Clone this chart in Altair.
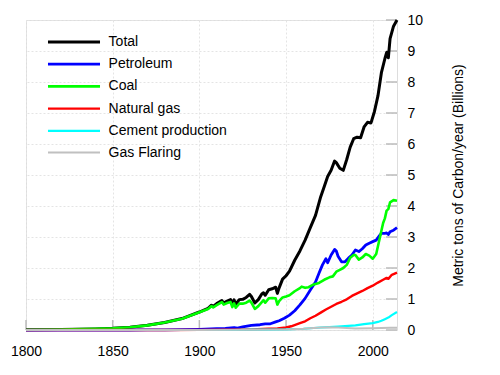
import altair as alt
import pandas as pd

# ---- data (billions of metric tons of carbon / year) ----
total_years = [1800, 1820, 1840, 1850, 1860, 1870, 1880, 1890, 1900, 1905, 1907, 1908,
               1910, 1913, 1914, 1916, 1918, 1919, 1920, 1921, 1923, 1925, 1927, 1929,
               1930, 1932, 1934, 1936, 1937, 1938, 1940, 1942, 1944, 1945, 1946, 1948,
               1950, 1952, 1955, 1958, 1961, 1964, 1967, 1970, 1972, 1974, 1976, 1978,
               1979, 1981, 1983, 1985, 1987, 1989, 1991, 1993, 1995, 1997, 1999, 2001,
               2003, 2005, 2007, 2008, 2009, 2010, 2012, 2014]
total_vals = [0.01, 0.015, 0.035, 0.055, 0.09, 0.15, 0.24, 0.37, 0.58, 0.70, 0.80, 0.76,
              0.85, 0.95, 0.87, 0.93, 0.98, 0.84, 0.97, 0.83, 0.98, 0.99, 1.05, 1.15,
              1.08, 0.87, 0.98, 1.16, 1.20, 1.12, 1.30, 1.33, 1.38, 1.18, 1.36, 1.64,
              1.75, 1.90, 2.25, 2.55, 2.90, 3.30, 3.70, 4.30, 4.62, 4.95, 5.15, 5.45,
              5.40, 5.22, 5.15, 5.50, 5.90, 6.17, 6.22, 6.20, 6.55, 6.70, 6.68, 7.05,
              7.55, 8.30, 8.75, 8.95, 8.78, 9.40, 9.80, 10.0]

petroleum_years = [1800, 1860, 1870, 1880, 1890, 1900, 1910, 1915, 1920, 1922, 1925, 1930,
                   1935, 1938, 1941, 1944, 1946, 1949, 1952, 1955, 1958, 1961, 1964, 1967,
                   1969, 1971, 1973, 1974, 1976, 1978, 1979, 1980, 1982, 1984, 1986, 1988,
                   1990, 1992, 1994, 1996, 1998, 2000, 2002, 2004, 2005, 2007, 2008, 2009,
                   2010, 2012, 2014]
petroleum_vals = [0.0, 0.0, 0.002, 0.005, 0.01, 0.02, 0.04, 0.05, 0.08, 0.06, 0.10, 0.15,
                  0.17, 0.20, 0.20, 0.26, 0.30, 0.38, 0.48, 0.62, 0.81, 1.02, 1.29, 1.55,
                  1.83, 2.10, 2.30, 2.17, 2.42, 2.60, 2.55, 2.38, 2.20, 2.20, 2.32, 2.42,
                  2.58, 2.53, 2.62, 2.74, 2.80, 2.85, 2.90, 3.05, 3.12, 3.12, 3.13, 3.08,
                  3.17, 3.22, 3.30]

coal_years = [1800, 1820, 1840, 1850, 1860, 1870, 1880, 1890, 1900, 1905, 1907, 1908,
              1910, 1913, 1914, 1916, 1918, 1919, 1920, 1921, 1923, 1925, 1927, 1929,
              1930, 1932, 1934, 1936, 1937, 1938, 1940, 1942, 1944, 1945, 1946, 1948,
              1950, 1952, 1955, 1958, 1959, 1961, 1963, 1966, 1969, 1972, 1975, 1977,
              1979, 1981, 1983, 1985, 1987, 1989, 1990, 1992, 1994, 1996, 1998, 2000,
              2002, 2003, 2004, 2005, 2006, 2007, 2008, 2009, 2010, 2012, 2014]
coal_vals = [0.01, 0.015, 0.035, 0.055, 0.09, 0.15, 0.24, 0.36, 0.57, 0.68, 0.77, 0.73,
             0.80, 0.90, 0.82, 0.87, 0.90, 0.74, 0.86, 0.72, 0.85, 0.85, 0.88, 0.95,
             0.88, 0.68, 0.77, 0.90, 0.96, 0.88, 1.02, 1.03, 1.02, 0.82, 0.93, 1.05,
             1.08, 1.12, 1.25, 1.35, 1.40, 1.36, 1.38, 1.47, 1.52, 1.62, 1.70, 1.73,
             1.88, 1.94, 2.00, 2.10, 2.33, 2.42, 2.42, 2.27, 2.34, 2.45, 2.40, 2.30,
             2.45, 2.70, 2.95, 3.20, 3.45, 3.60, 3.85, 3.90, 4.12, 4.19, 4.17]

gas_years = [1800, 1880, 1900, 1920, 1930, 1940, 1945, 1950, 1953, 1958, 1961, 1964,
             1967, 1970, 1973, 1976, 1979, 1982, 1985, 1988, 1991, 1994, 1997, 2000,
             2003, 2006, 2008, 2009, 2011, 2014]
gas_vals = [0.0, 0.0, 0.005, 0.01, 0.02, 0.04, 0.05, 0.08, 0.12, 0.22, 0.28, 0.38,
            0.46, 0.56, 0.66, 0.75, 0.84, 0.91, 0.99, 1.10, 1.18, 1.26, 1.35, 1.43,
            1.53, 1.62, 1.68, 1.65, 1.78, 1.85]

cement_years = [1800, 1920, 1930, 1940, 1950, 1960, 1970, 1980, 1990, 1995, 2000, 2003,
                2005, 2007, 2009, 2011, 2014]
cement_vals = [0.0, 0.0, 0.01, 0.015, 0.02, 0.04, 0.08, 0.11, 0.15, 0.19, 0.22, 0.26,
               0.30, 0.35, 0.40, 0.48, 0.58]

flaring_years = [1800, 1900, 1950, 1960, 1970, 1975, 1980, 1990, 2000, 2010, 2014]
flaring_vals = [0.0, 0.0, 0.02, 0.04, 0.08, 0.09, 0.08, 0.05, 0.06, 0.07, 0.07]

names = ["Total", "Petroleum", "Coal", "Natural gas", "Cement production", "Gas Flaring"]
colors = ["#000000", "#0000ff", "#00ff00", "#ff0000", "#00ffff", "#c0c0c0"]
widths = [3, 2, 2, 2, 2, 2]

x_ticks = [1800, 1850, 1900, 1950, 2000]
y_ticks = [0, 1, 2, 3, 4, 5, 6, 7, 8, 9, 10]

series = [
    ("Total", total_years, total_vals),
    ("Petroleum", petroleum_years, petroleum_vals),
    ("Coal", coal_years, coal_vals),
    ("Natural gas", gas_years, gas_vals),
    ("Cement production", cement_years, cement_vals),
    ("Gas Flaring", flaring_years, flaring_vals),
]
rows = []
for name, ys, vs in series:
    for yr, v in zip(ys, vs):
        rows.append({"year": yr, "value": v, "source": name})
df = pd.DataFrame(rows)

W, H = 371, 310
FONT = "Liberation Sans"

xscale = alt.Scale(domain=[1800, 2014], nice=False, zero=False)
yscale = alt.Scale(domain=[0, 10], nice=False)

x_axis = alt.Axis(values=x_ticks, format="d", title=None, ticks=False,
                  domain=False, labelPadding=14, labelFontSize=14, labelFlush=False,
                  labelColor="#000", grid=True, gridColor="#e4e4e4",
                  gridDash=[2, 2], labelFont=FONT)
y_axis = alt.Axis(orient="right", values=y_ticks,
                  title="Metric tons of Carbon/year (Billions)",
                  ticks=False, domain=False, labelPadding=10, labelFontSize=14,
                  labelFlush=False,
                  labelColor="#000", grid=True, gridColor="#e4e4e4", gridDash=[2, 2],
                  titleAngle=270, titleX=61, titleY=H / 2, titleAlign="center",
                  titleBaseline="middle", titleFontSize=14, titleFontWeight="normal",
                  titleColor="#000", titleFont=FONT, labelFont=FONT)

xtick_df = pd.DataFrame({"year": x_ticks})
ytick_df = pd.DataFrame({"value": y_ticks})

xt = alt.Chart(xtick_df).mark_rule(color="#bbbbbb", strokeWidth=1.5).encode(
    x=alt.X("year:Q", scale=xscale, axis=x_axis),
    y=alt.value(H), y2=alt.value(H - 10),
)
yt = alt.Chart(ytick_df).mark_rule(color="#bbbbbb", strokeWidth=1.5).encode(
    y=alt.Y("value:Q", scale=yscale, axis=y_axis),
    x=alt.value(W - 11), x2=alt.value(W),
)

lines = alt.Chart(df).mark_line(strokeJoin="round").encode(
    x=alt.X("year:Q", scale=xscale, axis=x_axis),
    y=alt.Y("value:Q", scale=yscale, axis=y_axis),
    color=alt.Color("source:N", scale=alt.Scale(domain=names, range=colors),
                    sort=names,
                    legend=alt.Legend(title=None, orient="none", legendX=36, legendY=10,
                                      symbolType="M-2.5,0H2.5", symbolSize=433,
                                      symbolStrokeWidth=2.5, labelFontSize=14,
                                      labelOffset=22.6, rowPadding=3.2, padding=0,
                                      labelFont=FONT, labelColor="#000")),
    strokeWidth=alt.StrokeWidth("source:N", scale=alt.Scale(domain=names, range=widths),
                                legend=None),
    order=alt.Order("year:Q"),
)

chart = alt.layer(xt, yt, lines).properties(
    width=W, height=H,
    autosize=alt.AutoSizeParams(type="none"),
    padding={"left": 18, "top": 12, "right": 80, "bottom": 40},
).configure_view(stroke=None).configure(font=FONT)

chart.save("out.html", embed_options={"renderer": "svg", "actions": False})
